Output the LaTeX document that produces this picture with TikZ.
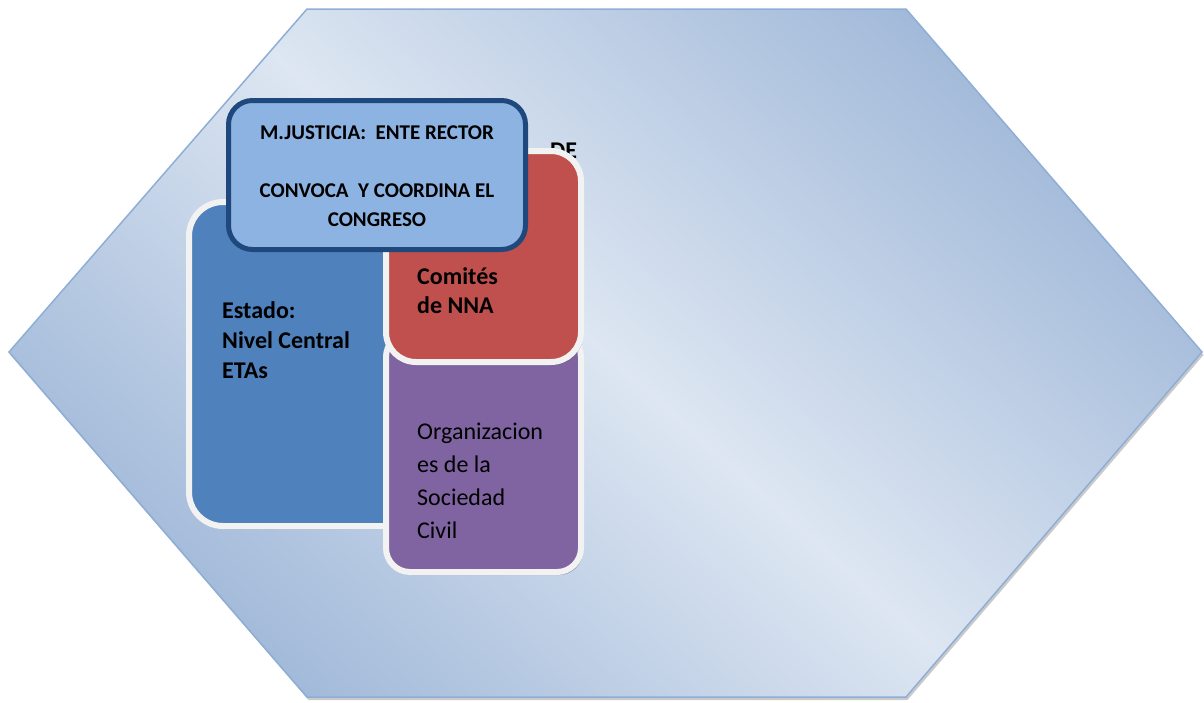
\documentclass[tikz,border=0pt]{standalone}
\usepackage{fontspec}
\setmainfont{Carlito}
\usetikzlibrary{shadows}
\definecolor{hexline}{HTML}{8EAED6}
\definecolor{hexdark}{HTML}{A1B9D9}
\definecolor{hexlight}{HTML}{DDE6F2}
\definecolor{rimwhite}{HTML}{F2F2F2}
\definecolor{bluefill}{HTML}{4F81BD}
\definecolor{redfill}{HTML}{C0504D}
\definecolor{purplefill}{HTML}{8064A2}
\definecolor{topfill}{HTML}{8DB3E2}
\definecolor{topline}{HTML}{1F497D}
\tikzset{
  colbox/.style={draw=rimwhite, line width=6pt, inner sep=0pt, rectangle,
    drop shadow={shadow xshift=2pt, shadow yshift=-3pt, opacity=0.45, fill=black!70}},
  toptxt/.style={font=\bfseries\fontsize{21}{29}\selectfont, align=center, inner sep=0pt},
  boldtxt/.style={font=\bfseries\fontsize{24}{30}\selectfont, align=left, inner sep=0pt, anchor=west},
  plaintxt/.style={font=\fontsize{24}{33}\selectfont, align=left, inner sep=0pt, anchor=west}
}
\begin{document}
\begin{tikzpicture}[x=1pt,y=-1pt]
\useasboundingbox (0,0) rectangle (1204,702);
% hexagon background
\path[draw=hexline, line width=1.5pt, top color=hexdark, bottom color=hexdark,
  middle color=hexlight, shading angle=-42,
  drop shadow={shadow xshift=1.5pt, shadow yshift=-3pt, opacity=0.35, fill=black!60}]
  (307,9) -- (906,9) -- (1202,352) -- (906,697) -- (307,697) -- (9,352) -- cycle;
% partially hidden title text
\node[font=\bfseries\fontsize{24}{28}\selectfont, inner sep=0pt, anchor=base west] (de) at (550,158) {DE};
% blue box
\node[colbox, fill=bluefill, rounded corners=34pt, minimum width=311pt, minimum height=324pt] (estado) at (344.5,364) {};
% purple box
\node[colbox, fill=purplefill, rounded corners=24pt, minimum width=195pt, minimum height=239pt] (osc) at (483.5,452.5) {};
% red box
\node[colbox, fill=redfill, rounded corners=30pt, minimum width=195pt, minimum height=211pt] (nna) at (483.5,256.5) {};
% top box
\node[draw=topline, line width=5pt, fill=topfill, rounded corners=24pt, inner sep=0pt,
  minimum width=297pt, minimum height=149pt] (mj) at (377,175) {};
% texts
\node[toptxt] (mjtxt) at (377,176) {M.JUSTICIA:\ \ ENTE RECTOR\\[29pt]CONVOCA\ \ Y COORDINA EL\\CONGRESO};
\node[boldtxt] (estadotxt) at (222,340) {Estado:\\Nivel Central\\ETAs};
\node[boldtxt, font=\bfseries\fontsize{24}{29}\selectfont] (nnatxt) at (417,290.5) {Comités\\de NNA};
\node[plaintxt] (osctxt) at (417,480.5) {Organizacion\\es de la\\Sociedad\\Civil};
\end{tikzpicture}
\end{document}
